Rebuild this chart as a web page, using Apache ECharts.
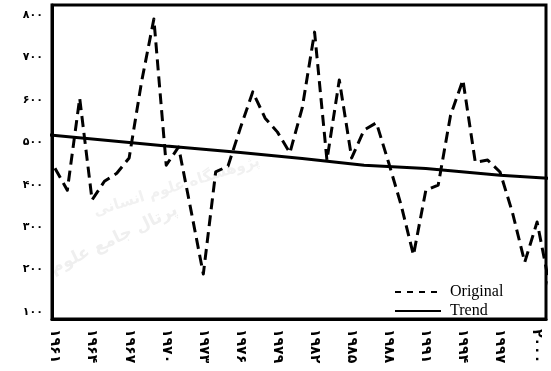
<!DOCTYPE html>
<html>
<head>
<meta charset="utf-8">
<script src="https://cdn.jsdelivr.net/npm/echarts@6/dist/echarts.min.js"></script>
<style>
  html, body { margin: 0; padding: 0; background: #fff; }
  #chart { width: 551px; height: 371px; }
</style>
</head>
<body>
<div id="chart"></div>
<script>
// Annual series 1961–2001 and its fitted trend
const years = [1961, 1962, 1963, 1964, 1965, 1966, 1967, 1968, 1969, 1970,
               1971, 1972, 1973, 1974, 1975, 1976, 1977, 1978, 1979, 1980,
               1981, 1982, 1983, 1984, 1985, 1986, 1987, 1988, 1989, 1990,
               1991, 1992, 1993, 1994, 1995, 1996, 1997, 1998, 1999, 2000, 2001];
const originalValues = [439, 387, 604, 364, 408, 427, 463, 642, 791, 446,
                        489, 340, 189, 430, 444, 534, 619, 557, 524, 475,
                        581, 760, 458, 647, 463, 529, 546, 451, 352, 234,
                        387, 399, 564, 647, 453, 458, 430, 335, 217, 312, 163];
const trendYears  = [1960, 1970, 1976, 1981, 1986, 1991, 1997, 2001];
const trendValues = [519, 491, 476, 462, 446, 438, 422, 415];

const xTickYears  = [1961, 1964, 1967, 1970, 1973, 1976, 1979, 1982, 1985, 1988, 1991, 1994, 1997, 2000];
const yTickValues = [100, 200, 300, 400, 500, 600, 700, 800];

const seriesNames = ['Original', 'Trend'];

const persianDigits = '۰۱۲۳۴۵۶۷۸۹';
function toPersian(n) {
  return String(n).replace(/[0-9]/g, d => persianDigits[+d]);
}

const chart = echarts.init(document.getElementById('chart'), null, { renderer: 'canvas' });

// legend entries show only the line sample, no marker
const hiddenMarker = { color: 'rgba(0,0,0,0)', borderColor: 'rgba(0,0,0,0)', borderWidth: 0, opacity: 0 };

chart.setOption({
  backgroundColor: '#ffffff',
  animation: false,
  grid: {
    left: 52, right: 5, top: 5, bottom: 52,
    show: true, borderColor: '#000', borderWidth: 3, backgroundColor: 'transparent'
  },
  graphic: [
    {
      type: 'text', x: 48, y: 262, rotation: 0.45, z: -1,
      style: { text: 'پرتال جامع علوم', fill: '#efefef',
               font: 'bold 17px "DejaVu Sans"' }
    },
    {
      type: 'text', x: 92, y: 205, rotation: 0.3, z: -1,
      style: { text: 'پژوهشگاه علوم انسانی', fill: '#f1f1f1',
               font: 'bold 15px "DejaVu Sans"' }
    }
  ],
  legend: {
    orient: 'vertical',
    left: 394, top: 284,
    padding: 0,
    itemWidth: 46, itemHeight: 14, itemGap: 3,
    textStyle: { fontFamily: '"Liberation Serif", serif', fontSize: 16, color: '#000', padding: [0, 0, 0, 4] },
    data: [
      { name: seriesNames[0], itemStyle: hiddenMarker, lineStyle: { width: 2, type: [6, 6], color: '#000' } },
      { name: seriesNames[1], itemStyle: hiddenMarker, lineStyle: { width: 2, color: '#000' } }
    ]
  },
  xAxis: {
    type: 'value',
    min: 1960.76, max: 2000.72,
    axisLine: { show: true, lineStyle: { color: '#000', width: 3 } },
    axisTick: { show: false },
    splitLine: { show: false },
    axisLabel: {
      customValues: xTickYears,
      rotate: -90,
      margin: 10,
      color: '#000',
      fontFamily: '"DejaVu Sans"',
      fontWeight: 'bold',
      fontSize: 14,
      formatter: v => toPersian(v)
    }
  },
  yAxis: {
    type: 'value',
    min: 83, max: 824,
    axisLine: { show: true, lineStyle: { color: '#000', width: 3 } },
    axisTick: { show: false },
    splitLine: { show: false },
    axisLabel: {
      customValues: yTickValues,
      margin: 9,
      color: '#000',
      fontFamily: '"DejaVu Sans"',
      fontWeight: 'bold',
      fontSize: 11,
      formatter: v => toPersian(v)
    }
  },
  series: [
    {
      name: seriesNames[0],
      type: 'line',
      data: years.map((y, i) => [y, originalValues[i]]),
      symbol: 'none',
      clip: true,
      itemStyle: { color: '#000' },
      lineStyle: { color: '#000', width: 3, type: [11, 6], cap: 'butt', join: 'round' },
      z: 3
    },
    {
      name: seriesNames[1],
      type: 'line',
      data: trendYears.map((y, i) => [y, trendValues[i]]),
      symbol: 'none',
      clip: true,
      itemStyle: { color: '#000' },
      lineStyle: { color: '#000', width: 3, type: 'solid' },
      z: 2
    }
  ]
});
</script>
</body>
</html>
